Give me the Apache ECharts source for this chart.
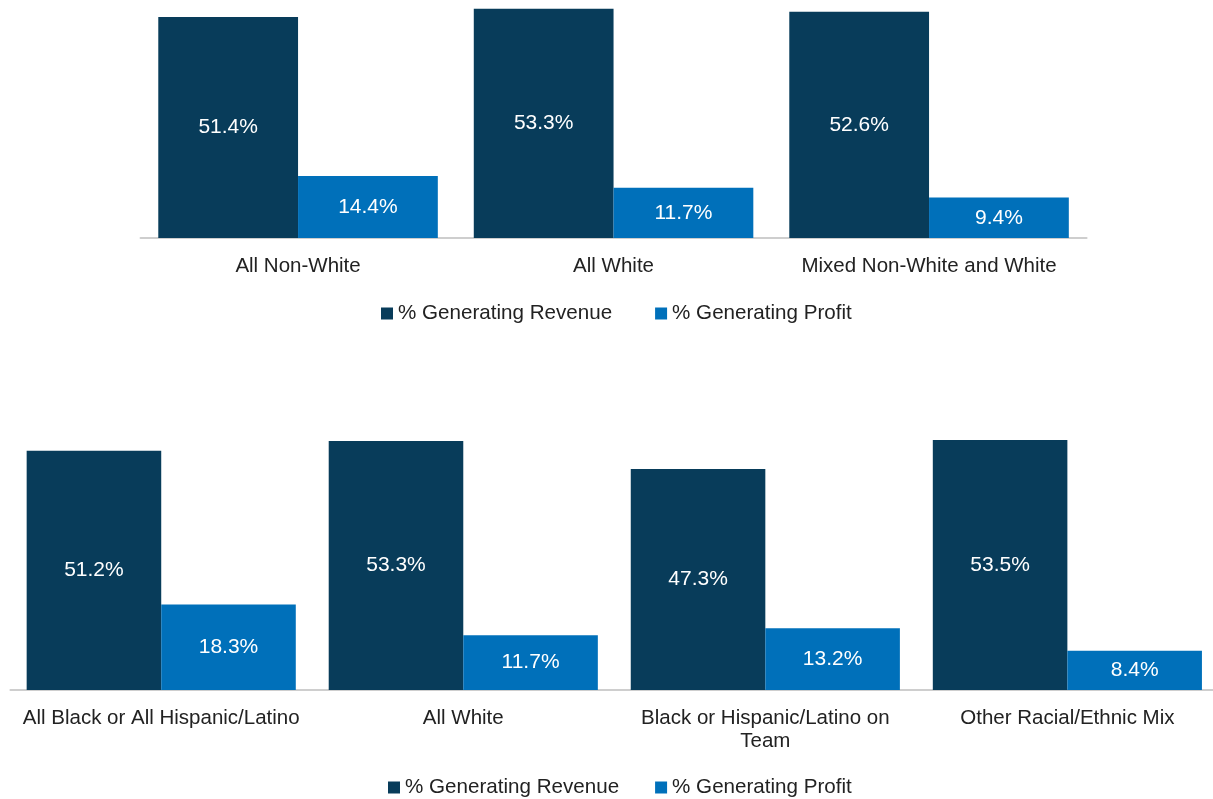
<!DOCTYPE html>
<html>
<head>
<meta charset="utf-8">
<script src="https://cdn.jsdelivr.net/npm/echarts@6/dist/echarts.min.js"></script>
<style>
  html, body { margin: 0; padding: 0; background: #ffffff; }
  #chart { width: 1213px; height: 799px; }
</style>
</head>
<body>
<div id="chart"></div>
<script>
// Upper panel: team composition (three groups)
const topCategories = ['All Non-White', 'All White', 'Mixed Non-White and White'];
const topRevenue = [51.4, 53.3, 52.6];
const topProfit = [14.4, 11.7, 9.4];

// Lower panel: team composition (four groups)
const bottomCategories = ['All Black or All Hispanic/Latino', 'All White', 'Black or Hispanic/Latino on\nTeam', 'Other Racial/Ethnic Mix'];
const bottomRevenue = [51.2, 53.3, 47.3, 53.5];
const bottomProfit = [18.3, 11.7, 13.2, 8.4];

const seriesNames = ['% Generating Revenue', '% Generating Profit'];

const NAVY = '#083c5a';
const BLUE = '#0070ba';
const FONT = '"Liberation Sans", Arial, sans-serif';

const chart = echarts.init(document.getElementById('chart'), null, { renderer: 'canvas' });

const valueLabel = {
  show: true,
  position: 'inside',
  color: '#ffffff',
  fontSize: 21,
  fontFamily: FONT,
  formatter: p => p.value.toFixed(1) + '%'
};

function catAxis(gridIndex, data) {
  return {
    type: 'category',
    gridIndex: gridIndex,
    data: data,
    axisLine: { show: true, lineStyle: { color: '#bfbfbf', width: 1.5 } },
    axisTick: { show: false },
    axisLabel: {
      color: '#222222',
      fontSize: 20.5,
      fontFamily: FONT,
      margin: 17,
      lineHeight: 23,
      interval: 0
    }
  };
}

function valAxis(gridIndex) {
  return {
    type: 'value',
    gridIndex: gridIndex,
    min: 0,
    max: 55,
    show: false,
    splitLine: { show: false }
  };
}

function legend(left, top, gap) {
  return {
    data: seriesNames,
    left: left,
    top: top,
    padding: 0,
    icon: 'rect',
    itemWidth: 12,
    itemHeight: 12,
    itemGap: gap,
    textStyle: { color: '#222222', fontSize: 20.6, fontFamily: FONT },
    selectedMode: false
  };
}

function bar(name, data, color, axisIndex) {
  return {
    name: name,
    type: 'bar',
    xAxisIndex: axisIndex,
    yAxisIndex: axisIndex,
    data: data,
    itemStyle: { color: color },
    barGap: '0%',
    barCategoryGap: axisIndex === 0 ? '11.4%' : '10.9%',
    label: valueLabel,
    emphasis: { disabled: true },
    animation: false
  };
}

chart.setOption({
  animation: false,
  color: [NAVY, BLUE],
  grid: [
    { left: 140.3, width: 946.5, top: 1.5, height: 236.5, outerBoundsMode: 'none' },
    { left: 10.2, width: 1208.2, top: 433, height: 257, outerBoundsMode: 'none' }
  ],
  xAxis: [catAxis(0, topCategories), catAxis(1, bottomCategories)],
  yAxis: [valAxis(0), valAxis(1)],
  legend: [legend(381, 303, 43), legend(388, 777, 36)],
  series: [
    bar(seriesNames[0], topRevenue, NAVY, 0),
    bar(seriesNames[1], topProfit, BLUE, 0),
    bar(seriesNames[0], bottomRevenue, NAVY, 1),
    bar(seriesNames[1], bottomProfit, BLUE, 1)
  ]
});
</script>
</body>
</html>
